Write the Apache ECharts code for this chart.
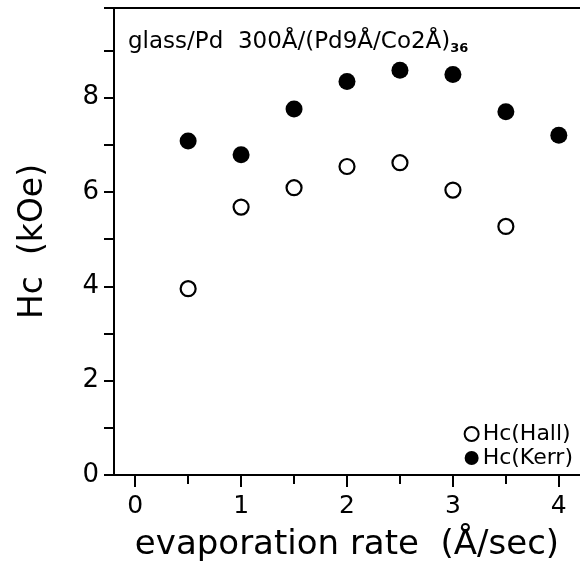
<!DOCTYPE html>
<html>
<head>
<meta charset="utf-8">
<script src="https://cdn.jsdelivr.net/npm/echarts@6/dist/echarts.min.js"></script>
<style>
html, body { margin: 0; padding: 0; background: #fff; }
#chart { width: 580px; height: 563px; }
</style>
</head>
<body>
<div id="chart"></div>
<script>
// evaporation rate (Å/sec)
var rateHall = [0.5, 1.0, 1.5, 2.0, 2.5, 3.0, 3.5];
var hcHall = [3.95, 5.68, 6.09, 6.54, 6.62, 6.04, 5.27];
var rateKerr = [0.5, 1.0, 1.5, 2.0, 2.5, 3.0, 3.5, 4.0];
var hcKerr = [7.08, 6.79, 7.76, 8.34, 8.58, 8.49, 7.70, 7.20];
var xMajorTicks = [0, 1, 2, 3, 4];
var xMinorTicks = [0.5, 1.5, 2.5, 3.5];
var yLabels = [0, 2, 4, 6, 8];

var font = 'DejaVu Sans';

function pairs(xs, ys) {
    return xs.map(function (x, i) { return [x, ys[i]]; });
}

var myChart = echarts.init(document.getElementById('chart'));
var option = {
    backgroundColor: '#fff',
    animation: false,
    textStyle: { fontFamily: font, color: '#000' },
    title: {
        text: '{a|glass/Pd  300Å/(Pd9Å/Co2Å)}{s|36}',
        left: 123,
        top: 25,
        textStyle: {
            fontWeight: 'normal',
            rich: {
                a: { fontSize: 23, fontFamily: font, color: '#000', fontWeight: 'normal' },
                s: { fontSize: 13, fontFamily: font, color: '#000', fontWeight: 'bold', padding: [12, 0, 0, 0] }
            }
        }
    },
    legend: {
        orient: 'vertical',
        right: 2,
        top: 418,
        itemWidth: 14,
        itemHeight: 14,
        itemGap: 2,
        textStyle: { fontSize: 22, fontFamily: font, color: '#000', padding: [0, 0, 0, -1] },
        data: ['Hc(Hall)', 'Hc(Kerr)']
    },
    grid: {
        left: 114,
        top: 8,
        width: 466,
        bottom: 88,
        outerBoundsMode: 'none'
    },
    xAxis: [{
        type: 'value',
        min: -0.2,
        max: 4.2,
        splitLine: { show: false },
        axisLine: { onZero: false, lineStyle: { color: '#000', width: 2 } },
        axisTick: { customValues: xMajorTicks, length: 12, lineStyle: { color: '#000', width: 2 } },
        axisLabel: { customValues: xMajorTicks, fontSize: 25, margin: 19, color: '#000' },
        name: 'evaporation rate  (Å/sec)',
        nameLocation: 'middle',
        nameGap: 53,
        nameTextStyle: { fontSize: 34, color: '#000' }
    }, {
        type: 'value',
        min: -0.2,
        max: 4.2,
        position: 'bottom',
        splitLine: { show: false },
        axisLine: { show: false },
        axisTick: { customValues: xMinorTicks, length: 9, lineStyle: { color: '#000', width: 2 } },
        axisLabel: { show: false }
    }, {
        type: 'value',
        min: -0.2,
        max: 4.2,
        position: 'top',
        splitLine: { show: false },
        axisLine: { lineStyle: { color: '#000', width: 2 } },
        axisTick: { show: false },
        axisLabel: { show: false }
    }],
    yAxis: {
        type: 'value',
        min: 0,
        max: 9.9,
        interval: 1,
        splitLine: { show: false },
        axisLine: { onZero: false, lineStyle: { color: '#000', width: 2 } },
        axisTick: { length: 10, lineStyle: { color: '#000', width: 2 } },
        axisLabel: {
            fontSize: 26,
            margin: 15,
            color: '#000',
            formatter: function (v) { return yLabels.indexOf(v) >= 0 ? String(v) : ''; }
        },
        name: 'Hc  (kOe)',
        nameLocation: 'middle',
        nameGap: 64,
        nameTextStyle: { fontSize: 33, color: '#000' }
    },
    series: [{
        name: 'Hc(Hall)',
        type: 'scatter',
        symbol: 'circle',
        symbolSize: 15,
        itemStyle: { color: '#fff', borderColor: '#000', borderWidth: 2.2, opacity: 1 },
        data: pairs(rateHall, hcHall)
    }, {
        name: 'Hc(Kerr)',
        type: 'scatter',
        symbol: 'circle',
        symbolSize: 17,
        itemStyle: { color: '#000', opacity: 1 },
        data: pairs(rateKerr, hcKerr)
    }]
};
myChart.setOption(option);
</script>
</body>
</html>
